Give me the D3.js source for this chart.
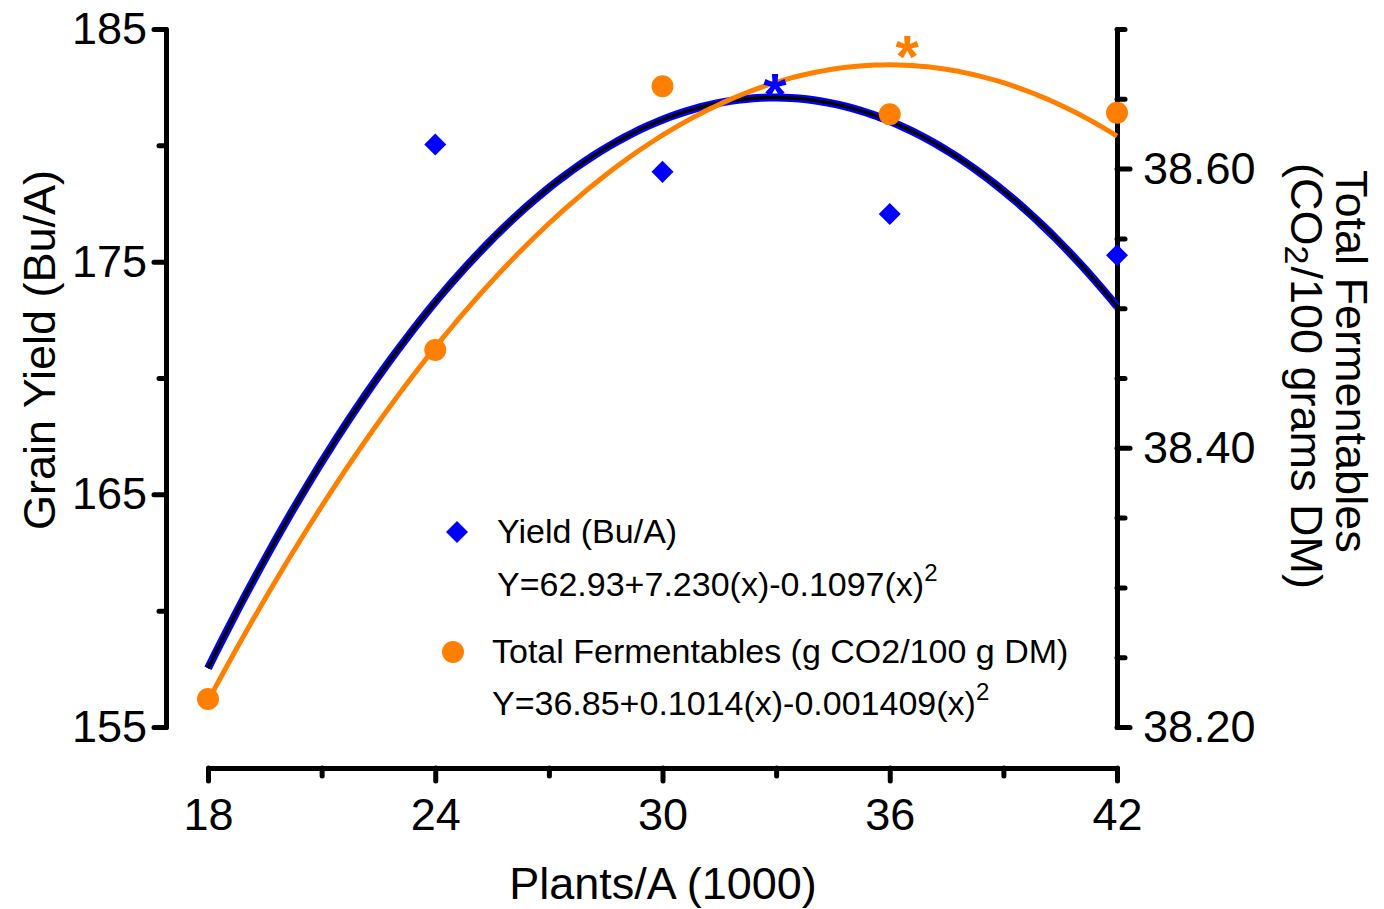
<!DOCTYPE html>
<html><head><meta charset="utf-8">
<script src="https://cdn.jsdelivr.net/npm/d3@7"></script>
<style>
body{margin:0;background:#fff}
svg{display:block;font-family:"Liberation Sans",Arial,sans-serif;background:#fff}
</style>
</head><body>
<svg id="c" width="1384" height="909"></svg>
<script>
// ---- data ----
const plants = [18, 24, 30, 36, 42];
const yieldVals = [154.4, 180.04, 178.86, 177.05, 175.28];
const fermVals = [38.220, 38.470, 38.659, 38.639, 38.640];
const yieldFit = [62.93, 7.230, -0.1097];
const fermFit = [36.85, 0.1014, -0.001409];
const yieldOpt = [32.97, 182.5];
const fermOpt = [36.46, 38.686];
const xTicks = [18, 24, 30, 36, 42];
const xMinor = [21, 27, 33, 39];
const yLeftTicks = [155, 165, 175, 185];
const yLeftMinor = [160, 170, 180];
const yRightTicks = [38.20, 38.40, 38.60];
const yRightMinor = [38.25, 38.30, 38.35, 38.45, 38.50, 38.55, 38.65, 38.70];
const legendLabels = ["Yield (Bu/A)", "Total Fermentables (g CO2/100 g DM)"];
const legendEqs = ["Y=62.93+7.230(x)-0.1097(x)", "Y=36.85+0.1014(x)-0.001409(x)"];
const xTitle = "Plants/A (1000)";
const yLeftTitle = "Grain Yield (Bu/A)";
const yRightTitle1 = "Total Fermentables";

const BLUE = "#0000FF", ORANGE = "#FF8000";

const svg = d3.select("#c");
const x = d3.scaleLinear([18, 42], [208, 1117]);
const yL = d3.scaleLinear([155, 185], [727, 29]);
const yR = d3.scaleLinear([38.2, 38.7], [727, 29]);

function styleAxis(g) {
  g.selectAll(".domain").attr("stroke", "#000").attr("stroke-width", 5).attr("stroke-linecap", "round").attr("stroke-linejoin", "round");
  g.selectAll(".tick line").attr("stroke", "#000").attr("stroke-width", 5).attr("stroke-linecap", "round");
  g.selectAll(".tick text").attr("font-size", 45).attr("fill", "#000").attr("font-family", "Liberation Sans, Arial, sans-serif");
}

// left axis
const gL = svg.append("g").attr("transform", "translate(166,0)");
gL.call(d3.axisLeft(yL).tickValues(yLeftTicks).tickSize(12).tickSizeOuter(0).tickPadding(7).tickFormat(d3.format("d")));
const gLm = svg.append("g").attr("transform", "translate(166,0)");
gLm.call(d3.axisLeft(yL).tickValues(yLeftMinor).tickSize(7).tickFormat(""));
gLm.select(".domain").remove();
styleAxis(gL); styleAxis(gLm);

// right axis
const gR = svg.append("g").attr("transform", "translate(1117,0)");
gR.call(d3.axisRight(yR).tickValues(yRightTicks).tickSize(13).tickSizeOuter(0).tickPadding(13).tickFormat(d3.format(".2f")));
const gRm = svg.append("g").attr("transform", "translate(1117,0)");
gRm.call(d3.axisRight(yR).tickValues(yRightMinor).tickSize(8).tickFormat(""));
gRm.select(".domain").remove();
styleAxis(gR); styleAxis(gRm);

// bottom axis
const gB = svg.append("g").attr("transform", "translate(0,768)");
gB.call(d3.axisBottom(x).tickValues(xTicks).tickSize(13).tickSizeOuter(0).tickPadding(17).tickFormat(d3.format("d")));
const gBm = svg.append("g").attr("transform", "translate(0,768)");
gBm.call(d3.axisBottom(x).tickValues(xMinor).tickSize(8).tickFormat(""));
gBm.select(".domain").remove();
styleAxis(gB); styleAxis(gBm);

// fitted curves
const xs = d3.range(18, 42.0001, 0.2);
const poly = (c, v) => c[0] + c[1] * v + c[2] * v * v;
const lineL = d3.line().x(d => x(d)).y(d => yL(poly(yieldFit, d)));
const lineR = d3.line().x(d => x(d)).y(d => yR(poly(fermFit, d)));
svg.append("path").datum(xs).attr("d", lineL).attr("fill", "none").attr("stroke", BLUE).attr("stroke-width", 8);
svg.append("path").datum(xs).attr("d", lineL).attr("fill", "none").attr("stroke", "#000").attr("stroke-width", 3.5);
svg.append("path").datum(xs).attr("d", lineR).attr("fill", "none").attr("stroke", ORANGE).attr("stroke-width", 5);

// points
const diamond = d3.symbol(d3.symbolSquare, 243);
const circle = d3.symbol(d3.symbolCircle, 380);
svg.append("g").selectAll("path").data(plants.map((p, i) => [p, fermVals[i]]))
  .join("path").attr("d", circle).attr("fill", ORANGE)
  .attr("transform", d => `translate(${x(d[0])},${yR(d[1])})`);
svg.append("g").selectAll("path").data(plants.map((p, i) => [p, yieldVals[i]]).filter(d => d[1] >= 155 && d[1] <= 185))
  .join("path").attr("d", diamond).attr("fill", BLUE)
  .attr("transform", d => `translate(${x(d[0])},${yL(d[1])}) rotate(45)`);

// asterisks
svg.append("text").attr("x", x(yieldOpt[0])).attr("y", yL(yieldOpt[1])).attr("dy", "0.47em")
  .attr("text-anchor", "middle").attr("font-size", 60).attr("font-weight", "bold").attr("fill", BLUE).text("*");
svg.append("text").attr("x", x(fermOpt[0])).attr("y", yR(fermOpt[1])).attr("dy", "0.47em")
  .attr("text-anchor", "middle").attr("font-size", 60).attr("font-weight", "bold").attr("fill", ORANGE).text("*");

// legend
const leg = svg.append("g").attr("font-size", 34).attr("fill", "#000");
leg.append("path").attr("d", diamond).attr("fill", BLUE).attr("transform", "translate(457,532) rotate(45)");
leg.append("text").attr("x", 497).attr("y", 543).text(legendLabels[0]);
const e1 = leg.append("text").attr("x", 497).attr("y", 596).text(legendEqs[0]);
e1.append("tspan").attr("font-size", 24).attr("dy", -15).text("2");
leg.append("path").attr("d", circle).attr("fill", ORANGE).attr("transform", "translate(453,652)");
leg.append("text").attr("x", 492).attr("y", 663).text(legendLabels[1]);
const e2 = leg.append("text").attr("x", 492).attr("y", 715).text(legendEqs[1]);
e2.append("tspan").attr("font-size", 24).attr("dy", -15).text("2");

// titles
svg.append("text").attr("x", 663).attr("y", 899).attr("text-anchor", "middle").attr("font-size", 45).text(xTitle);
svg.append("text").attr("transform", "translate(55,350) rotate(-90)").attr("text-anchor", "middle").attr("font-size", 45).text(yLeftTitle);
svg.append("text").attr("transform", "translate(1336,170) rotate(90)").attr("font-size", 45).text(yRightTitle1);
const t2 = svg.append("text").attr("transform", "translate(1291,163) rotate(90)").attr("font-size", 45);
t2.append("tspan").text("(CO");
t2.append("tspan").attr("font-size", 34).attr("dy", 6).text("2");
t2.append("tspan").attr("dy", -6).attr("dx", 2).text("/100 grams DM)");
</script>
</body></html>
